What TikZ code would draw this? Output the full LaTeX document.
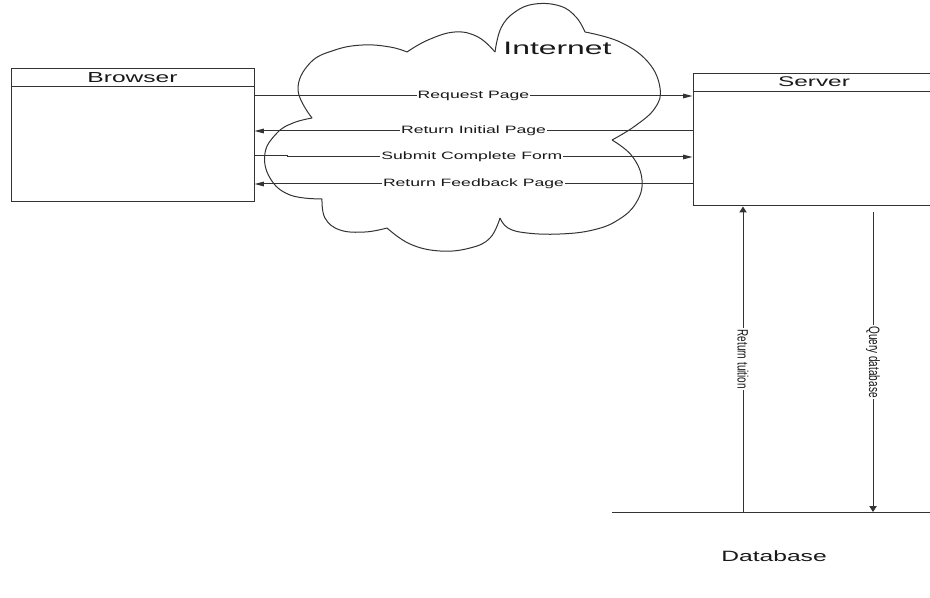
\documentclass[tikz,border=0pt]{standalone}
\usepackage{fontspec}
\setmainfont{Liberation Sans}
\usepackage{graphicx}
\usetikzlibrary{arrows.meta}
\begin{document}
\begin{tikzpicture}[x=0.75pt,y=-0.75pt,
  ln/.style={draw=black!80, line width=0.75pt},
  box/.style={ln, rectangle, inner sep=0pt},
  harr/.style={ln, -{Triangle[length=7pt,width=3.4pt]}},
  varr/.style={ln, -{Triangle[length=4.5pt,width=5.5pt]}},
  lbl/.style={fill=white, inner xsep=0.8pt, inner ysep=1pt, font=\fontsize{8}{9}\selectfont, text=black!90},
  vlbl/.style={fill=white, inner xsep=0.8pt, inner ysep=1pt, font=\fontsize{7.5}{9}\selectfont, text=black!90, rotate=-90},
  ttl/.style={text=black!90, inner sep=0pt, anchor=base}
]
\clip (0,0) rectangle (930,598);
\fill[white] (0,0) rectangle (930,598);

% cloud
\draw[ln] plot[smooth,tension=0.7] coordinates {(312,118) (298,90) (310,63) (335,50) (363,45) (390,47) (407,52)};
\draw[ln] plot[smooth,tension=0.7] coordinates {(407,52) (428,40) (455,32) (478,37) (495,52)};
\draw[ln] plot[smooth,tension=0.7] coordinates {(495,52) (501,28) (515,12) (535,4) (560,6) (576,17) (585,32)};
\draw[ln] plot[smooth,tension=0.7] coordinates {(585,32) (620,42) (648,62) (660,88) (655,108) (635,126) (612,140)};
\draw[ln] plot[smooth,tension=0.7] coordinates {(612,140) (632,156) (642,180) (636,203) (618,220) (593,230) (560,234) (527,233) (508,228) (500,218)};
\draw[ln] plot[smooth,tension=0.7] coordinates {(500,218) (490,238) (470,248) (440,251) (410,244) (387,228)};
\draw[ln] plot[smooth,tension=0.7] coordinates {(387,228) (365,232) (340,230) (325,218) (322,199)};
\draw[ln] plot[smooth,tension=0.7] coordinates {(322,199) (290,195) (270,178) (265,153) (277,133) (293,123) (312,118)};
\node[ttl, font=\fontsize{13.5}{15}\selectfont] (inet) at (557.5,55) {\scalebox{1.77}[1]{Internet}};

% boxes
\node[box, minimum width=182.25pt, minimum height=99.75pt] (browser) at (132.5,135.5) {};
\draw[ln] ([yshift=-13.5pt]browser.north west) -- ([yshift=-13.5pt]browser.north east);
\node[ttl, font=\fontsize{10.9}{12}\selectfont] (btitle) at (132.5,82.7) {\scalebox{1.69}[1]{Browser}};

\node[box, minimum width=182.25pt, minimum height=99pt] (server) at (814.5,140) {};
\draw[ln] ([yshift=-13.5pt]server.north west) -- ([yshift=-13.5pt]server.north east);
\node[ttl, font=\fontsize{10.5}{12}\selectfont] (stitle) at (814,86.7) {\scalebox{1.74}[1]{Server}};

% horizontal messages
\coordinate (y1) at (0,96);
\coordinate (y2) at (0,131);
\coordinate (y3a) at (0,155.6);
\coordinate (y3) at (0,157);
\coordinate (y4) at (0,184);
\coordinate (jog) at (287,155.6);

\draw[harr] (browser.east |- y1) -- node[lbl]{\scalebox{1.65}[1]{Request Page}} (server.west |- y1);
\draw[harr] (server.west |- y2) -- node[lbl]{\scalebox{1.65}[1]{Return Initial Page}} (browser.east |- y2);
\draw[ln] (browser.east |- y3a) -- (jog) -- (jog |- y3);
\draw[harr] (jog |- y3) -- node[lbl,pos=0.456]{\scalebox{1.65}[1]{Submit Complete Form}} (server.west |- y3);
\draw[harr] (server.west |- y4) -- node[lbl]{\scalebox{1.65}[1]{Return Feedback Page}} (browser.east |- y4);

% database
\coordinate (dbl) at (612,512);
\coordinate (dbr) at (940,512);
\draw[ln] (dbl) -- (dbr);
\node[ttl, font=\fontsize{11.2}{13}\selectfont] (db) at (774,561) {\scalebox{1.65}[1]{Database}};

% vertical messages
\coordinate (rt) at (743,512);
\coordinate (qd) at (873,212);
\draw[varr] (rt) -- node[vlbl]{\scalebox{1}[1.5]{Return tuition}} (rt |- server.south);
\draw[varr] (qd) -- node[vlbl]{\scalebox{1}[1.5]{Query database}} (qd |- dbl);
\end{tikzpicture}
\end{document}
